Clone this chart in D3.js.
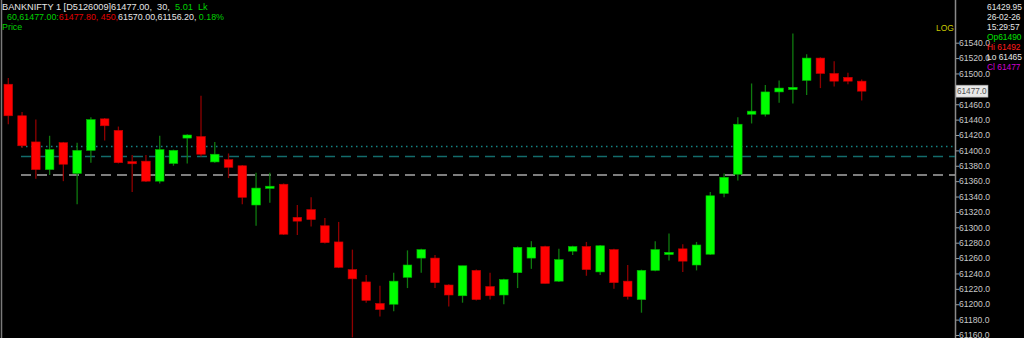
<!DOCTYPE html>
<html lang="en">
    <head>
        <title>BANKNIFTY 30 min</title>
        <script src="https://d3js.org/d3.v7.min.js"></script>
        <style>
            body { margin: 0; background: #000; }
            text { font-family: "Liberation Sans", Arial, sans-serif; white-space: pre; }
        </style>
    </head>
    <body>

    <div id="mainDiv"></div>

        <script type="text/javascript">
            const width = 1024
            const height = 338

            // candles, oldest first
            const opens  = [61486, 61445, 61411, 61375, 61410, 61370, 61400, 61441, 61426, 61385,
                            61386, 61360, 61383, 61416, 61418, 61385, 61388, 61380, 61329, 61351,
                            61356, 61313, 61323, 61302, 61281, 61245, 61229, 61201, 61200, 61235,
                            61260, 61260, 61225, 61211, 61244, 61223, 61212, 61241, 61260, 61275,
                            61230, 61269, 61275, 61242, 61271, 61230, 61206, 61244, 61265, 61272,
                            61251, 61265, 61344, 61369, 61447, 61447, 61476, 61479, 61491, 61520,
                            61500, 61495, 61490]
            const highs  = [61494, 61450, 61440, 61419, 61411, 61410, 61443, 61442, 61431, 61394,
                            61394, 61419, 61401, 61421, 61471, 61411, 61396, 61381, 61371, 61371,
                            61357, 61329, 61339, 61312, 61307, 61271, 61238, 61224, 61241, 61270,
                            61272, 61264, 61226, 61250, 61245, 61241, 61233, 61275, 61282, 61276,
                            61272, 61276, 61281, 61277, 61272, 61251, 61245, 61282, 61292, 61278,
                            61281, 61346, 61370, 61443, 61487, 61485, 61491, 61552, 61525, 61521,
                            61516, 61501, 61492]
            const lows   = [61434, 61403, 61363, 61368, 61360, 61330, 61384, 61413, 61383, 61346,
                            61359, 61357, 61380, 61383, 61392, 61384, 61364, 61330, 61302, 61332,
                            61290, 61290, 61301, 61279, 61247, 61157, 61202, 61184, 61191, 61221,
                            61241, 61221, 61197, 61202, 61205, 61206, 61200, 61221, 61246, 61227,
                            61229, 61264, 61237, 61238, 61220, 61206, 61189, 61243, 61257, 61242,
                            61244, 61264, 61339, 61361, 61435, 61444, 61462, 61461, 61472, 61481,
                            61483, 61486, 61465]
            const closes = [61445, 61406, 61375, 61401, 61382, 61400, 61440, 61432, 61384, 61383,
                            61360, 61401, 61400, 61420, 61395, 61395, 61378, 61339, 61351, 61353,
                            61291, 61308, 61310, 61280, 61248, 61233, 61205, 61193, 61230, 61251,
                            61271, 61228, 61212, 61250, 61206, 61211, 61232, 61274, 61274, 61227,
                            61258, 61275, 61245, 61276, 61228, 61210, 61244, 61271, 61267, 61256,
                            61277, 61341, 61365, 61434, 61451, 61476, 61481, 61482, 61520, 61500,
                            61490, 61490, 61477]

            const priceTicks = d3.range(61160, 61541, 20)
            const levels = [
                { price: 61405, color: '#168484', dash: '1.5,3.5' },
                { price: 61392, color: '#136b6b', dash: '10,6' },
                { price: 61368, color: '#a8a8a8', dash: '10,6' }
            ]
            const lastPrice = 61477
            const infoLines = [
                { text: '61429.95', color: '#e6e6e6' },
                { text: '26-02-26', color: '#e6e6e6' },
                { text: '15:29:57', color: '#e6e6e6' },
                { text: 'Op61490', color: '#00e000' },
                { text: 'Hi 61492', color: '#ff1a1a' },
                { text: 'Lo 61465', color: '#e6e6e6' },
                { text: 'Cl 61477', color: '#d000d0' }
            ]

            const candles = opens.map((o, i) => ({
                i, open: o, high: highs[i], low: lows[i], close: closes[i]
            }))

            const svg = d3.select('#mainDiv').append('svg')
                .attr('width', width)
                .attr('height', height)
                .style('display', 'block')
                .style('background', '#000')

            const axisX = 955

            const xScale = d3.scaleLinear()
                .domain([0, candles.length - 1])
                .range([8.3, 861.7])

            const yScale = d3.scaleLinear()
                .domain([61160, 61540])
                .range([335, 42.7])

            const bodyW = 8.6

            // frame lines
            svg.append('line')
                .attr('x1', 1.5).attr('x2', 1.5)
                .attr('y1', 0).attr('y2', height)
                .attr('stroke', '#7a7a7a').attr('stroke-width', 1.5)

            svg.append('line')
                .attr('x1', axisX + 0.5).attr('x2', axisX + 0.5)
                .attr('y1', 0).attr('y2', height)
                .attr('stroke', '#8a8a8a').attr('stroke-width', 1.5)

            // horizontal levels
            svg.append('g').selectAll('line')
                .data(levels)
                .join('line')
                .attr('x1', 21).attr('x2', axisX)
                .attr('y1', d => yScale(d.price)).attr('y2', d => yScale(d.price))
                .attr('stroke', d => d.color)
                .attr('stroke-width', 1.4)
                .attr('stroke-dasharray', d => d.dash)

            // candles
            const cg = svg.append('g')
            cg.selectAll('line.wick')
                .data(candles)
                .join('line')
                .attr('class', 'wick')
                .attr('x1', d => xScale(d.i)).attr('x2', d => xScale(d.i))
                .attr('y1', d => yScale(d.high)).attr('y2', d => yScale(d.low))
                .attr('stroke', d => d.close >= d.open ? '#0f7a0f' : '#8e0000')
                .attr('stroke-width', 1.3)

            cg.selectAll('rect.body')
                .data(candles)
                .join('rect')
                .attr('class', 'body')
                .attr('x', d => xScale(d.i) - bodyW / 2)
                .attr('width', bodyW)
                .attr('y', d => {
                    const t = yScale(Math.max(d.open, d.close))
                    const b = yScale(Math.min(d.open, d.close))
                    return b - t < 2.2 ? (t + b) / 2 - 1.1 : t
                })
                .attr('height', d => Math.max(2.2, Math.abs(yScale(d.open) - yScale(d.close))))
                .attr('fill', d => d.close >= d.open ? '#00ff00' : '#ff0000')
                .attr('stroke', d => d.close >= d.open ? '#00b400' : '#c00000')
                .attr('stroke-width', 0.6)

            // price axis (the tick hidden under the last-price box is skipped)
            const shownTicks = priceTicks.filter(v => Math.abs(yScale(v) - yScale(lastPrice)) > 7)
            const axisG = svg.append('g')
                .attr('transform', `translate(${axisX + 1},0)`)
                .call(d3.axisRight(yScale).tickValues(shownTicks).tickFormat(d3.format('.1f'))
                    .tickSize(3).tickPadding(0))
            axisG.select('.domain').remove()
            axisG.selectAll('.tick line').attr('stroke', '#9a9a9a')
            axisG.selectAll('.tick text')
                .attr('fill', '#c8c8c8')
                .style('font-size', '8.6px')
                .style('font-family', '"Liberation Sans", Arial, sans-serif')

            // last price marker
            const lp = svg.append('g').attr('transform', `translate(${axisX + 1},${yScale(lastPrice)})`)
            lp.append('rect')
                .attr('x', 0).attr('y', -6).attr('width', 32).attr('height', 12)
                .attr('fill', '#e8e8e8').attr('stroke', '#9a9a9a').attr('stroke-width', 0.6)
            lp.append('text')
                .attr('x', 1).attr('y', 3.2)
                .attr('fill', '#505050')
                .style('font-size', '8.2px')
                .text(d3.format('.1f')(lastPrice))

            // info panel on the right
            svg.append('g').selectAll('text')
                .data(infoLines)
                .join('text')
                .attr('x', 987)
                .attr('y', (d, i) => 10 + i * 10)
                .attr('fill', d => d.color)
                .style('font-size', '8.4px')
                .text(d => d.text)

            svg.append('text')
                .attr('x', 936).attr('y', 31)
                .attr('fill', '#c8c800')
                .style('font-size', '8.5px')
                .text('LOG')

            // header
            const h1 = svg.append('text').attr('x', 2).attr('y', 9.8).style('font-size', '9.2px')
            h1.append('tspan').attr('fill', '#e6e6e6').text('BANKNIFTY 1 [D5126009]61477.00,  30,  ')
            h1.append('tspan').attr('fill', '#00d000').text('5.01  Lk')

            const h2 = svg.append('text').attr('x', 7).attr('y', 20).style('font-size', '8.9px')
            h2.append('tspan').attr('fill', '#00d000').text('60,61477.00:')
            h2.append('tspan').attr('fill', '#e00000').text('61477.80, 450,')
            h2.append('tspan').attr('fill', '#e6e6e6').text('61570.00,61156.20,')
            h2.append('tspan').attr('fill', '#00d000').text(' 0.18%')

            svg.append('text')
                .attr('x', 2).attr('y', 30)
                .attr('fill', '#00d000')
                .style('font-size', '8.9px')
                .text('Price')
        </script>
    </body>
</html>
